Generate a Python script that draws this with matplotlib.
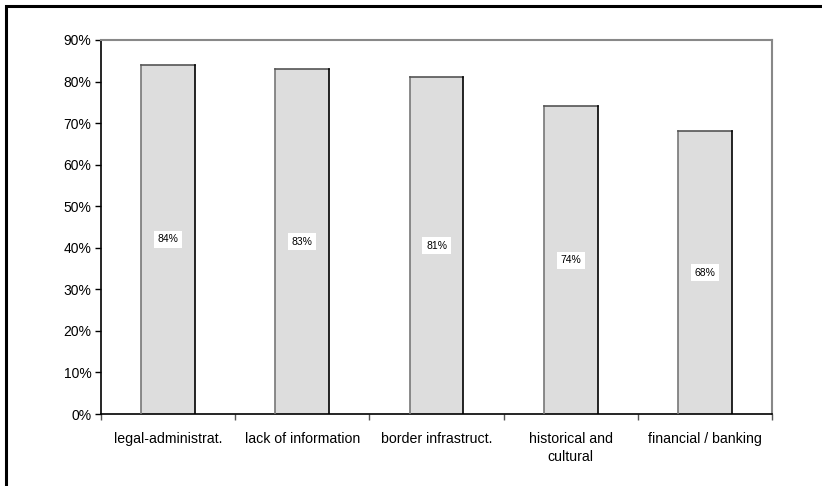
import matplotlib
matplotlib.use("Agg")
import matplotlib.pyplot as plt
from matplotlib.patches import Rectangle
import numpy as np

plt.rcParams['font.family'] = ['Liberation Sans', 'DejaVu Sans']

categories = ["legal-administrat.", "lack of information", "border infrastruct.",
              "historical and\ncultural", "financial / banking"]
values = [84, 83, 81, 74, 68]
y_ticks = [0, 10, 20, 30, 40, 50, 60, 70, 80, 90]

W, H = 822, 486
fig = plt.figure(figsize=(W / 100, H / 100), dpi=100)
ax = fig.add_axes([101 / W, 1 - 414 / H, (772 - 101) / W, (414 - 40) / H])

x = np.arange(len(categories))
bar_w = 0.4
ax.bar(x, values, width=bar_w, color="#dddddd", edgecolor="none", zorder=2)
# shaded edges: grey on the left, black on the right and top
for xi, v in zip(x, values):
    ax.plot([xi - bar_w / 2, xi - bar_w / 2], [0, v], color="#777777", lw=1.2, zorder=3)
    ax.plot([xi - bar_w / 2, xi + bar_w / 2], [v, v], color="#555555", lw=1.2, zorder=3)
    ax.plot([xi + bar_w / 2, xi + bar_w / 2], [0, v], color="black", lw=1.2, zorder=3)
    ax.text(xi, v / 2, f"{v}%", ha="center", va="center", fontsize=7.5, zorder=4,
            bbox=dict(boxstyle="square,pad=0.35", fc="white", ec="none"))

ax.set_xlim(-0.5, len(categories) - 0.5)
ax.set_ylim(0, 90)
ax.set_yticks(y_ticks)
ax.set_yticklabels([f"{t}%" for t in y_ticks], fontsize=10)
ax.set_xticks(x)
ax.set_xticklabels(categories, fontsize=10.2, linespacing=1.35)
ax.set_xticks(np.arange(len(categories) + 1) - 0.5, minor=True)
ax.tick_params(axis="x", which="major", length=0, pad=13)
ax.tick_params(axis="x", which="minor", length=4, width=1, direction="out", color="#555555")
ax.tick_params(axis="y", length=4, width=1, direction="out", pad=3)

for side in ("left", "bottom"):
    ax.spines[side].set_color("black")
    ax.spines[side].set_linewidth(1.2)
for side in ("top", "right"):
    ax.spines[side].set_color("#888888")
    ax.spines[side].set_linewidth(1.5)

# outer chart frame
fig.patches.append(Rectangle((6 / W, -0.1), 1.2, 1 - 6 / H + 0.1, transform=fig.transFigure,
                             fill=False, ec="black", lw=2.2, zorder=10))

fig.savefig("out.png", dpi=100)
